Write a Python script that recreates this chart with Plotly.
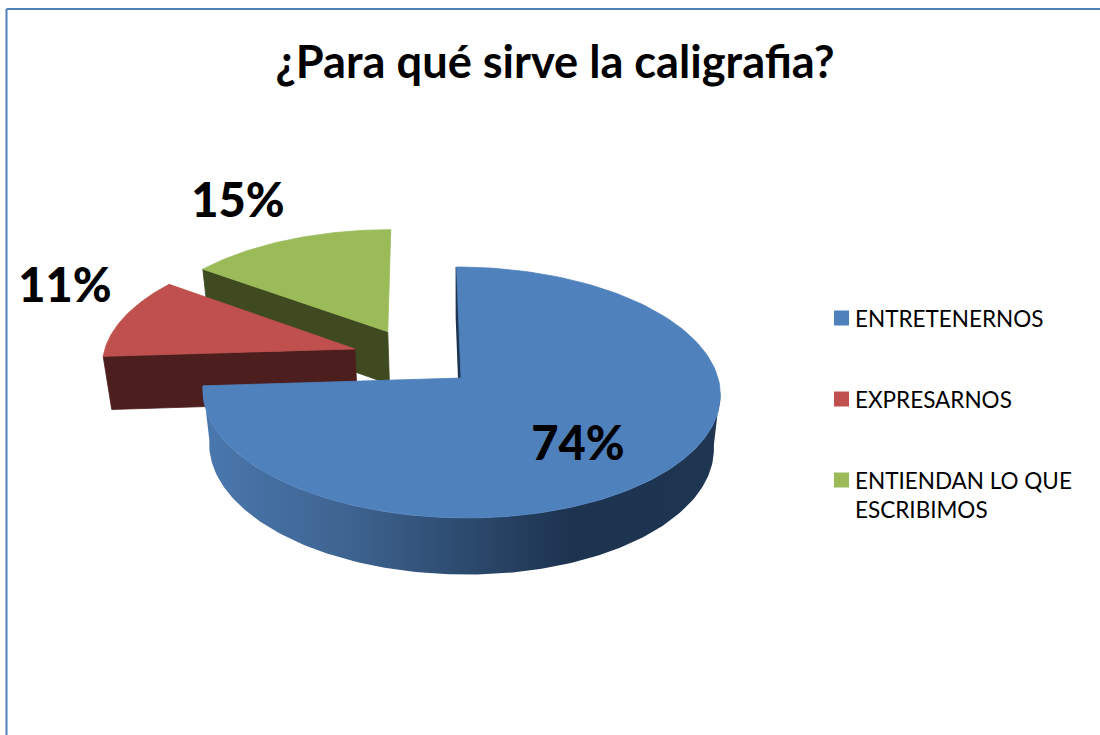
import math

import plotly.graph_objects as go

categories = ['ENTRETENERNOS', 'EXPRESARNOS', 'ENTIENDAN LO QUE<br>ESCRIBIMOS']
values = [74, 11, 15]
colors = ['#4f81bd', '#c0504d', '#9bbb59']
wall_colors = ['#1d3550', '#4c1e1e', '#3f4a20']

# explosion of each slice: size and skew of direction (deg) from the slice middle
pull = [0, 0.484, 0.487]
pull_skew = [0, 13.7, -9.6]

# label centres on the page
label_x = [578, 65, 238]
label_y = [448, 290, 205]

# legend swatches and where each text block starts
legend_x = [841.5, 841.5, 841.5]
legend_y = [318, 399, 480]
legend_text_x = 856

# fake 3d camera, in pixels
CX, CY = 461, 378
RX, RY = 257, 123.8
PERSP = 0.1155
DEPTH = 55
SHRINK = 0.025
SHEAR = 0.04

# side wall gradient of the big slice, left to right
WALL_LEFT, WALL_RIGHT = 205, 720
wall_scale = [[0, '#4a78ae'], [0.28, '#3e6390'], [0.51, '#2c4a6d'],
              [0.71, '#1d3350'], [1, '#1e3652']]


def project(u, v, bottom=False):
    w = 1 - PERSP * v + (SHRINK if bottom else 0)
    y = (RY * v + (DEPTH if bottom else 0)) / w
    x = CX + RX * u / w + SHEAR * (RY * v / w)
    return x, CY + y


def rim(offset, deg):
    a = math.radians(deg)
    return offset[0] + math.sin(a), offset[1] - math.cos(a)


def arc(offset, start, end, n=60):
    return [rim(offset, start + (end - start) * i / n) for i in range(n + 1)]


def polygon(points, color, line=0.8, **kwargs):
    xs, ys = zip(*points)
    return go.Scatter(
        x=list(xs) + [xs[0]],
        y=list(ys) + [ys[0]],
        mode='lines',
        fill='toself',
        fillcolor=color,
        line=dict(color=color, width=line),
        hoverinfo='skip',
        showlegend=False,
        **kwargs,
    )


def wall(pts, color, line=0.8, **kwargs):
    top = [project(*p) for p in pts]
    bottom = [project(*p, bottom=True) for p in reversed(pts)]
    return polygon(top + bottom, color, line, **kwargs)


# angles of every slice, clockwise from 12 o'clock
spans = []
start = 0
for val in values:
    spans.append((start, start + val * 3.6))
    start += val * 3.6

offsets = []
for (a0, a1), p, skew in zip(spans, pull, pull_skew):
    mid = math.radians((a0 + a1) / 2 + skew)
    offsets.append((p * math.sin(mid), -p * math.cos(mid)))

fig = go.Figure()

# green then red: back to front
for i in (2, 1):
    a0, a1 = spans[i]
    off = offsets[i]
    fig.add_trace(wall([rim(off, a0), off], wall_colors[i]))
    fig.add_trace(polygon([project(*off)] + [project(*p) for p in arc(off, a0, a1)], colors[i]))

# big slice: dark sliver, curved wall from the right silhouette, top face
a0, a1 = spans[0]
off = offsets[0]
fig.add_trace(wall([off, rim(off, a0)], wall_colors[0], 2))
fig.add_trace(wall(
    arc(off, 96, a1, 160),
    '#1e3652',
    0,
    fillgradient=dict(type='horizontal', colorscale=wall_scale, start=WALL_LEFT, stop=WALL_RIGHT),
))
fig.add_trace(polygon([project(*off)] + [project(*p) for p in arc(off, a0, a1, 160)], colors[0]))

# legend swatches
fig.add_trace(go.Scatter(
    x=legend_x,
    y=legend_y,
    mode='markers',
    marker=dict(symbol='square', size=15, color=colors),
    hoverinfo='skip',
    showlegend=False,
))

# percent labels
fig.add_trace(go.Scatter(
    x=label_x,
    y=label_y,
    mode='text',
    text=[f'{v}%' for v in values],
    textposition='middle center',
    textfont=dict(family='Lato', size=47, color='black', weight=900),
    hoverinfo='skip',
    showlegend=False,
))

for name, y in zip(categories, legend_y):
    fig.add_annotation(
        x=legend_text_x,
        y=y - 15,
        xref='x',
        yref='y',
        text=name,
        showarrow=False,
        align='left',
        xanchor='left',
        yanchor='top',
        xshift=-3,
        font=dict(family='Lato', size=22.5, color='black'),
    )

fig.update_layout(
    width=1100,
    height=735,
    margin=dict(l=0, r=0, t=0, b=0),
    paper_bgcolor='white',
    plot_bgcolor='white',
    font=dict(family='Lato', color='black'),
    title=dict(
        text='<b>¿Para qué sirve la caligrafia?</b>',
        font=dict(family='Lato', size=45.2, color='black'),
        x=555 / 1100,
        xanchor='center',
        y=1 - 62 / 735,
        yanchor='middle',
    ),
    xaxis=dict(range=[0, 1100], visible=False, fixedrange=True),
    yaxis=dict(range=[735, 0], visible=False, fixedrange=True),
    showlegend=False,
    shapes=[
        dict(type='line', xref='x', yref='y', x0=6.5, y0=9, x1=1100, y1=9,
             line=dict(color='#4f81bd', width=2)),
        dict(type='line', xref='x', yref='y', x0=6.5, y0=9, x1=6.5, y1=735,
             line=dict(color='#4f81bd', width=2)),
    ],
)

# page margin off so the figure fills the window, no fi ligature in the title
page_fix = """
document.body.style.margin = '0';
document.body.style.overflow = 'hidden';
var st = document.createElement('style');
st.textContent = 'text { font-variant-ligatures: none; }';
document.head.appendChild(st);
"""

fig.write_html("out.html", post_script=page_fix, config=dict(displayModeBar=False))
